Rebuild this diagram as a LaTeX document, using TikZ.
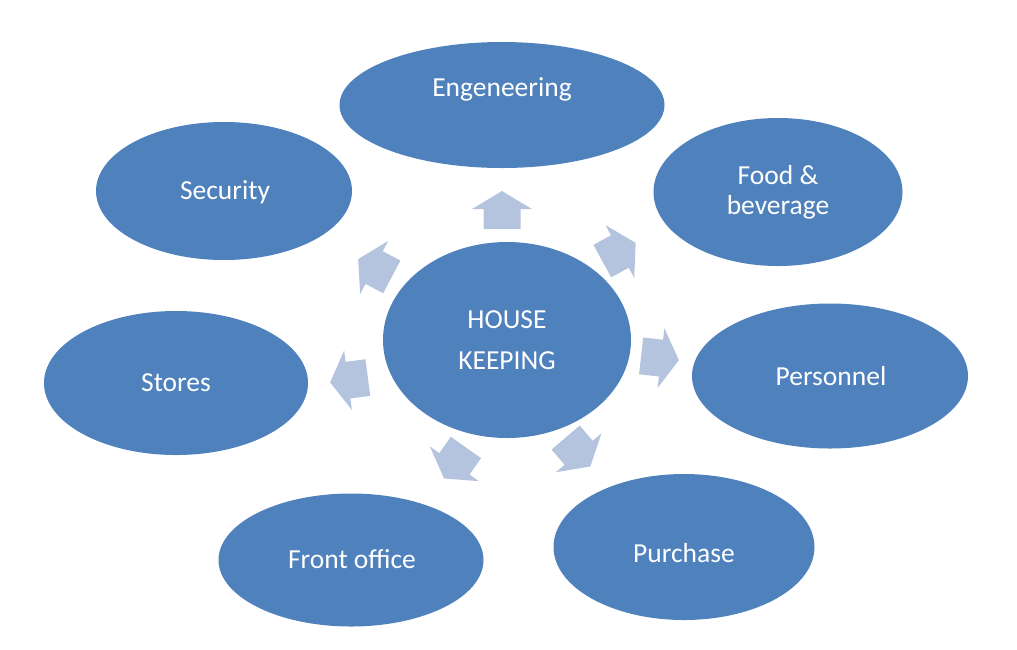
\documentclass[tikz,border=0pt]{standalone}
\usepackage{fontspec}
\setmainfont{Carlito}
\usetikzlibrary{shapes.geometric}
\definecolor{ellblue}{RGB}{79,129,189}
\definecolor{arrblue}{RGB}{180,195,222}
\tikzset{
  ell/.style={ellipse, fill=ellblue, draw=none, inner sep=0pt},
  lbl/.style={anchor=base, text=white, font=\fontsize{27.5}{30}\selectfont, align=center, inner sep=0pt},
  blockarrow/.pic={\fill[arrblue] (-19,-18.5) -- (1,-18.5) -- (1,-30) -- (19,0) -- (1,30) -- (1,18.5) -- (-19,18.5) -- cycle;}
}
\begin{document}
\begin{tikzpicture}[x=1pt,y=-1pt]
\useasboundingbox (0,0) rectangle (1017,649);
% outer ellipses
\node[ell, minimum width=325pt, minimum height=126pt] (eng) at (502,105) {};
\node[ell, minimum width=249pt, minimum height=148pt] (food) at (778,192) {};
\node[ell, minimum width=276pt, minimum height=145pt] (pers) at (830,376) {};
\node[ell, minimum width=261pt, minimum height=146pt] (purch) at (684,547) {};
\node[ell, minimum width=265pt, minimum height=133pt] (front) at (351,560) {};
\node[ell, minimum width=264pt, minimum height=144pt] (stores) at (176,383) {};
\node[ell, minimum width=256pt, minimum height=138pt] (sec) at (224,191) {};
\node[ell, minimum width=248pt, minimum height=196pt] (hk) at (507,340) {};
% labels
\node[lbl] (teng) at (502,96) {Engeneering};
\node[lbl] (tfood) at (778,214) {Food \&\\beverage};
\node[lbl] (tpers) at (831,385) {Personnel};
\node[lbl] (tpurch) at (684,562) {Purchase};
\node[lbl] (tfront) at (352,568) {Front office};
\node[lbl] (tstores) at (176,391) {Stores};
\node[lbl] (tsec) at (225,199) {Security};
\node[lbl, font=\fontsize{27.5}{41}\selectfont] (thk) at (507,369) {HOUSE\\KEEPING};
% arrows
\pic[rotate=90] at (502,210) {blockarrow};
\pic[rotate=28.6] at (619,252) {blockarrow};
\pic[rotate=152.2] at (375,268) {blockarrow};
\pic[rotate=-6.4] at (660,358) {blockarrow};
\pic[rotate=187.4] at (349,380) {blockarrow};
\pic[rotate=-125.3] at (455,463) {blockarrow};
\pic[rotate=-49.5] at (578,452) {blockarrow};
\end{tikzpicture}
\end{document}
